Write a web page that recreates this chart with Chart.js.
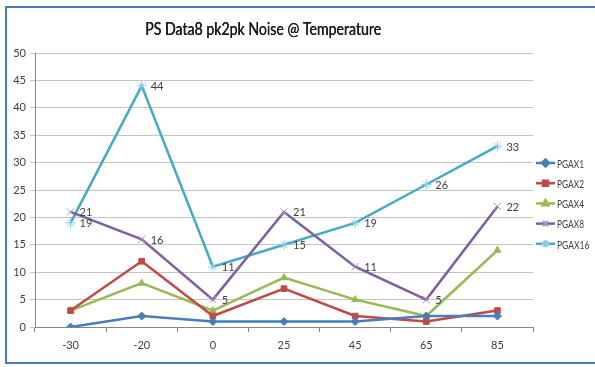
<!DOCTYPE html>
<html>
<head>
<meta charset="utf-8">
<script src="https://cdn.jsdelivr.net/npm/chart.js@4.4.0/dist/chart.umd.min.js"></script>
<style>
  html, body { margin: 0; padding: 0; background: #fff; }
  #wrap { position: relative; width: 595px; height: 367px; overflow: hidden; }
  #frame { position: absolute; left: 5px; top: 6px; width: 640px; height: 358px;
           border: 2px solid #4a7ebb; box-sizing: border-box; }
  canvas { position: absolute; left: 0; top: 0; }
</style>
</head>
<body>
<div id="wrap">
  <div id="frame"></div>
  <canvas id="chart" width="595" height="367"></canvas>
</div>
<script>
// Temperatures on the x axis
const temps = ["-30", "-20", "0", "25", "45", "65", "85"]

// pk2pk noise per gain setting
const pgax1 = [0, 2, 1, 1, 1, 2, 2]
const pgax2 = [3, 12, 2, 7, 2, 1, 3]
const pgax4 = [3, 8, 3, 9, 5, 2, 14]
const pgax8 = [21, 16, 5, 21, 11, 5, 22]
const pgax16 = [19, 44, 11, 15, 19, 26, 33]

// Series that show their values next to the points
const labelled = ["PGAX8", "PGAX16"]

const font = "Lato, 'Open Sans', sans-serif"
const textColour = "#404040"

// Value labels to the right of each point
const valueLabels = {
  id: "valueLabels",
  afterDatasetsDraw(chart) {
    const ctx = chart.ctx
    ctx.save()
    ctx.font = "11px " + font
    ctx.fillStyle = textColour
    ctx.textBaseline = "middle"
    ctx.textAlign = "left"
    chart.data.datasets.forEach((ds, i) => {
      if (!labelled.includes(ds.label)) return
      chart.getDatasetMeta(i).data.forEach((pt, j) => {
        ctx.fillText(ds.data[j], pt.x + 9, pt.y + 1)
      })
    })
    ctx.restore()
  }
}

// Title and legend drawn in the spots the original uses
const titleAndLegend = {
  id: "titleAndLegend",
  afterDraw(chart) {
    const ctx = chart.ctx
    ctx.save()
    ctx.font = "17px " + font
    ctx.fillStyle = "#1a1a1a"
    ctx.textAlign = "center"
    ctx.textBaseline = "middle"
    ctx.fillText("PS Data8 pk2pk Noise @ Temperature", 263, 30, 236)
    ctx.fillText("PS Data8 pk2pk Noise @ Temperature", 263.4, 30, 236)

    ctx.font = "12px " + font
    ctx.textAlign = "left"
    chart.data.datasets.forEach((ds, i) => {
      const y = 163 + i * 20.2
      ctx.strokeStyle = ds.borderColor
      ctx.lineWidth = 2.5
      ctx.beginPath()
      ctx.moveTo(536, y)
      ctx.lineTo(555, y)
      ctx.stroke()
      ctx.fillStyle = ds.pointBackgroundColor
      ctx.strokeStyle = ds.pointBorderColor
      Chart.helpers.drawPoint(ctx, {
        pointStyle: ds.pointStyle,
        radius: 3.5,
        borderWidth: ds.pointBorderWidth,
        rotation: 0
      }, 545.5, y)
      ctx.fillStyle = textColour
      ctx.fillText(ds.label, 557, y + 1, ds.label.length * 5.4)
    })
    ctx.restore()
  }
}

function series(label, data, colour, marker, markerColour) {
  return {
    label: label,
    data: data,
    borderColor: colour,
    backgroundColor: colour,
    borderWidth: 2.5,
    pointStyle: marker,
    pointRadius: marker === "crossRot" || marker === "star" ? 5 : 4,
    pointBackgroundColor: markerColour || colour,
    pointBorderColor: markerColour || colour,
    pointBorderWidth: 1,
    tension: 0
  }
}

new Chart(document.getElementById("chart"), {
  type: "line",
  data: {
    labels: temps,
    datasets: [
      series("PGAX1", pgax1, "#4a7ebb", "rectRot"),
      series("PGAX2", pgax2, "#be4b48", "rect"),
      series("PGAX4", pgax4, "#98b954", "triangle"),
      series("PGAX8", pgax8, "#7d60a0", "crossRot", "#a995c4"),
      series("PGAX16", pgax16, "#46aac5", "star", "#8ccde0")
    ]
  },
  plugins: [valueLabels, titleAndLegend],
  options: {
    responsive: false,
    animation: false,
    layout: { padding: { left: 0, right: 62, top: 53, bottom: 10 } },
    plugins: {
      legend: { display: false },
      title: { display: false },
      tooltip: { enabled: false }
    },
    scales: {
      x: {
        offset: true,
        grid: { offset: true, drawOnChartArea: false, tickLength: 5, color: "#868686" },
        border: { color: "#868686" },
        ticks: { color: textColour, font: { family: font, size: 11 }, padding: 7 },
        afterFit(scale) { scale.height = 30 }
      },
      y: {
        min: 0,
        max: 50,
        ticks: { stepSize: 5, color: textColour, font: { family: font, size: 11 }, padding: 4 },
        grid: { color: "#c4c4c4", tickLength: 5 },
        border: { color: "#868686" },
        afterFit(scale) { scale.width = 35 }
      }
    }
  }
})
</script>
</body>
</html>
